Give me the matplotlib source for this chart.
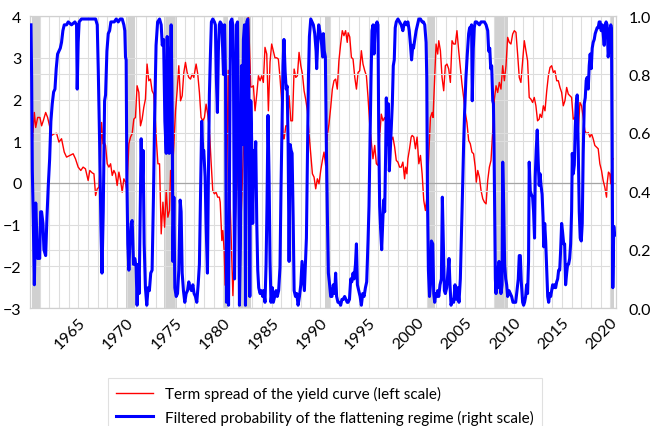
import numpy as np
import matplotlib.pyplot as plt

plt.rcParams['font.family'] = ['Lato', 'DejaVu Sans']

# term spread of the yield curve (left scale)
spread_t = [1960.11, 1960.46, 1960.60, 1960.80, 1961.04, 1961.21, 1961.38, 1961.63, 1961.83, 1962.07,
            1962.24, 1962.52, 1962.76, 1963.00, 1963.27, 1963.55, 1963.79, 1964.13, 1964.47, 1964.71,
            1964.99, 1965.26, 1965.50, 1965.74, 1966.02, 1966.19,
            1966.45, 1966.62, 1966.79, 1966.96, 1967.14, 1967.31, 1967.41, 1967.55, 1967.69, 1967.82,
            1967.99, 1968.17, 1968.34, 1968.51, 1968.68, 1968.85, 1969.02, 1969.20, 1969.37, 1969.54,
            1969.71, 1969.88, 1970.02, 1970.23, 1970.40, 1970.57, 1970.74, 1970.91, 1971.08, 1971.26,
            1971.43, 1971.60, 1971.77, 1971.94, 1972.11, 1972.29, 1972.46, 1972.63, 1972.80, 1972.97,
            1973.06, 1973.23, 1973.40, 1973.57, 1973.75, 1973.92, 1974.09, 1974.26, 1974.43, 1974.54,
            1974.71, 1974.85, 1975.05, 1975.22, 1975.39, 1975.57, 1975.74, 1975.91, 1976.08, 1976.25,
            1976.42, 1976.60, 1976.77, 1976.94, 1977.18, 1977.35, 1977.52, 1977.69, 1977.87, 1978.04,
            1978.21, 1978.38, 1978.55, 1978.72, 1978.90, 1979.07, 1979.24, 1979.41, 1979.58,
            1979.67, 1979.84, 1979.94, 1980.08, 1980.18, 1980.29, 1980.50, 1980.70, 1980.98, 1981.22,
            1981.45, 1981.73, 1982.07, 1982.32, 1982.59, 1982.83, 1982.93, 1983.10, 1983.27, 1983.45,
            1983.62, 1983.79, 1983.96, 1984.13, 1984.30, 1984.48, 1984.65, 1984.82, 1984.99, 1985.16,
            1985.33, 1985.51, 1985.68, 1985.85, 1986.02, 1986.19,
            1986.28, 1986.45, 1986.62, 1986.79, 1986.97, 1987.14, 1987.31, 1987.48, 1987.65, 1987.82,
            1988.00, 1988.17, 1988.34, 1988.51, 1988.68, 1988.85, 1989.03, 1989.20, 1989.37, 1989.54,
            1989.71, 1989.88, 1990.06, 1990.23, 1990.40, 1990.57, 1990.74, 1990.91, 1991.09, 1991.26,
            1991.43, 1991.60, 1991.77, 1991.94, 1992.12, 1992.29, 1992.46, 1992.63, 1992.80,
            1992.89, 1993.06, 1993.23, 1993.40, 1993.58, 1993.75, 1993.92, 1994.09, 1994.26, 1994.43,
            1994.61, 1994.78, 1994.95, 1995.12, 1995.29, 1995.46, 1995.64, 1995.81, 1995.98, 1996.15,
            1996.32, 1996.49, 1996.67, 1996.84, 1997.01, 1997.18, 1997.35, 1997.52, 1997.70, 1997.87,
            1998.04, 1998.21, 1998.38, 1998.55, 1998.73, 1998.83, 1998.97, 1999.07, 1999.24, 1999.41,
            1999.51, 1999.68, 1999.85, 2000.02, 2000.20, 2000.37, 2000.54, 2000.71, 2000.88, 2001.05,
            2001.23, 2001.40, 2001.57, 2001.67, 2001.84, 2001.98, 2002.15, 2002.26, 2002.43, 2002.60,
            2002.77, 2002.94, 2003.11, 2003.29, 2003.46, 2003.63, 2003.80, 2003.97, 2004.14, 2004.32,
            2004.49, 2004.66, 2004.83, 2005.00, 2005.17, 2005.35, 2005.52, 2005.69, 2005.86, 2006.03,
            2006.14,
            2006.29, 2006.46, 2006.63, 2006.81, 2006.98, 2007.15, 2007.32, 2007.49, 2007.66, 2007.84,
            2008.01, 2008.18, 2008.35, 2008.52, 2008.69, 2008.87, 2009.04, 2009.21, 2009.38, 2009.55,
            2009.72, 2009.90, 2010.07, 2010.24, 2010.41, 2010.58, 2010.75, 2010.93, 2011.10, 2011.27,
            2011.44, 2011.61, 2011.78, 2011.96, 2012.13, 2012.30, 2012.47, 2012.64,
            2012.73, 2012.90, 2013.07, 2013.24, 2013.42, 2013.59, 2013.76, 2013.93, 2014.10, 2014.27,
            2014.45, 2014.62, 2014.79, 2014.96, 2015.13, 2015.30, 2015.48, 2015.65, 2015.82, 2015.99,
            2016.16, 2016.33, 2016.51, 2016.68, 2016.85, 2017.02, 2017.19, 2017.36, 2017.54, 2017.71,
            2017.88, 2018.05, 2018.22, 2018.39, 2018.57, 2018.74, 2018.91, 2019.08, 2019.25, 2019.42,
            2019.60, 2019.66, 2019.80, 2019.94, 2020.04, 2020.18, 2020.28]
spread = [0.54, 1.69, 1.33, 1.57, 1.57, 1.37, 1.49, 1.69, 1.57, 1.33,
          1.14, 1.18, 1.19, 0.98, 1.06, 0.74, 0.62, 0.66, 0.70, 0.58,
          0.38, 0.30, 0.38, 0.34, 0.06, 0.30,
          0.24, 0.22, -0.30, -0.14, -0.10, 0.62, 1.45, 0.94, 0.98, 0.90,
          0.46, 0.38, 0.46, 0.18, 0.30, 0.22, -0.06, 0.26, 0.06, -0.22,
          0.10, 0.02, -0.18, 0.94, 1.10, 1.18, 1.53, 1.57, 2.33, 2.17,
          1.37, 1.53, 1.81, 2.01, 2.85, 2.45, 2.49, 2.21, 2.13, 1.49,
          1.06, 0.46, 0.46, -1.22, -0.46, -1.06, -0.18, -0.82, -0.66, 0.30,
          0.22, 0.78, 1.73, 2.21, 2.81, 1.97, 2.09, 2.65, 2.89, 2.65,
          2.53, 2.49, 2.61, 2.53, 2.85, 2.61, 2.17, 1.57, 1.49, 1.57,
          1.89, 1.65, 1.29, 0.54, -0.18, -0.26, -0.22, -0.34, -0.34,
          -0.46, -1.38, -1.14, -1.62, -2.45, -1.00, 2.70, -0.50, -2.70, -1.00,
          0.50, -1.50, 0.80, 3.00, 4.00, 2.30, 2.30, 2.33, 1.73, 2.13,
          2.57, 2.45, 2.57, 2.41, 3.25, 3.09, 1.73, 2.90, 3.33, 3.17,
          3.00, 3.00, 2.97, 2.53, 1.97, 1.06,
          1.06, 1.37, 1.37, 2.09, 1.49, 1.49, 2.73, 2.53, 2.57, 3.13,
          2.81, 2.61, 2.21, 2.00, 1.73, 1.18, 0.70, 0.22, 0.14, -0.14,
          0.10, -0.02, 0.30, 0.54, 0.74, 0.42, 1.14, 1.41, 1.81, 2.25,
          2.45, 2.49, 2.25, 2.93, 3.33, 3.65, 3.53, 3.65, 3.37,
          3.60, 3.50, 3.01, 2.97, 2.53, 2.25, 2.65, 2.69, 3.17, 2.85,
          2.69, 2.57, 2.05, 1.41, 0.98, 0.58, 0.90, 0.46, 0.42, 1.10,
          1.65, 1.49, 1.57, 1.45, 1.57, 1.41, 1.02, 1.10, 0.86, 0.54,
          0.50, 0.38, 0.38, 0.50, 0.10, 0.38, 0.22, 0.58, 0.82, 1.10,
          1.14, 1.10, 0.82, 1.10, 0.46, 0.66, 0.22, -0.42, -0.66, -0.30,
          0.70, 1.57, 1.69, 1.57, 2.53, 3.33, 3.09, 3.41, 3.17, 2.53,
          2.21, 2.81, 2.85, 2.73, 2.41, 3.41, 3.33, 3.33, 3.65, 3.17,
          2.77, 2.37, 2.05, 1.69, 1.45, 1.02, 0.94, 0.74, 0.70, 0.38,
          0.02,
          0.30, 0.14, -0.18, -0.38, -0.46, -0.50, 0.06, 0.38, 0.54, 1.26,
          2.01, 2.33, 2.17, 2.41, 2.25, 2.81, 2.45, 2.81, 3.49, 3.37,
          3.33, 3.57, 3.65, 3.61, 3.09, 2.53, 2.41, 2.93, 3.41, 3.17,
          2.93, 2.05, 2.01, 1.93, 2.05, 1.85, 1.49, 1.53,
          1.65, 1.57, 1.85, 1.73, 2.21, 2.57, 2.77, 2.81, 2.65, 2.69,
          2.45, 2.45, 2.29, 2.17, 1.85, 1.97, 2.29, 2.13, 2.09, 2.05,
          1.53, 1.57, 1.29, 1.25, 1.93, 1.85, 1.57, 1.25, 1.18, 1.21,
          1.10, 1.18, 1.06, 0.90, 0.86, 0.82, 0.46, 0.30, 0.06, -0.10,
          -0.34, -0.02, 0.26, 0.22, -0.02, 0.54, 0.58]

# filtered probability of the flattening regime (right scale)
prob_t = [1960.11, 1960.18, 1960.25, 1960.35, 1960.46, 1960.60, 1960.70, 1960.80, 1960.90, 1961.01,
          1961.11, 1961.21, 1961.35, 1961.45, 1961.63, 1961.76, 1961.90, 1962.04, 1962.17, 1962.31,
          1962.45, 1962.59, 1962.72, 1962.86, 1963.00, 1963.14, 1963.27, 1963.41, 1963.55, 1963.79,
          1963.96, 1964.30, 1964.65, 1964.82, 1964.89, 1964.99, 1965.09, 1965.33, 1965.85, 1966.36,
          1966.79, 1966.96, 1967.07, 1967.21, 1967.34, 1967.45, 1967.58, 1967.72, 1967.82, 1967.96,
          1968.10, 1968.24, 1968.37, 1968.72, 1968.92, 1969.13, 1969.33, 1969.54, 1969.71, 1969.81,
          1969.88, 1969.95, 1970.02, 1970.12, 1970.23, 1970.33, 1970.47, 1970.57, 1970.71, 1970.84,
          1970.98, 1971.08, 1971.19, 1971.29, 1971.43, 1971.50, 1971.60, 1971.70, 1971.81, 1971.94,
          1972.08, 1972.22, 1972.35, 1972.49, 1972.63, 1972.77, 1972.90, 1973.04,
          1973.20, 1973.40, 1973.57, 1973.68, 1973.82, 1973.95, 1974.09, 1974.19, 1974.30, 1974.40,
          1974.50, 1974.60, 1974.71, 1974.78, 1974.88, 1974.98, 1975.12, 1975.26, 1975.39, 1975.53,
          1975.63, 1975.74, 1975.87, 1976.01, 1976.15, 1976.29, 1976.42, 1976.56, 1976.70, 1976.84,
          1976.97, 1977.11, 1977.25, 1977.39, 1977.52, 1977.63, 1977.76, 1977.87, 1977.97, 1978.11,
          1978.21, 1978.35, 1978.45, 1978.55, 1978.66, 1978.76, 1978.90, 1979.07, 1979.17, 1979.27,
          1979.38, 1979.48, 1979.58,
          1979.67, 1979.84, 1980.01, 1980.12, 1980.22, 1980.32, 1980.42, 1980.53, 1980.63, 1980.73,
          1980.87, 1980.97, 1981.04, 1981.15, 1981.25, 1981.35, 1981.46, 1981.56, 1981.66, 1981.76,
          1981.87, 1981.97, 1982.07, 1982.18, 1982.28, 1982.42, 1982.52, 1982.62, 1982.73, 1982.83,
          1982.93, 1983.03, 1983.14, 1983.24, 1983.34, 1983.45, 1983.55, 1983.65, 1983.79, 1983.93,
          1984.06, 1984.17, 1984.30, 1984.41, 1984.51, 1984.61, 1984.72, 1984.82, 1984.92, 1985.06,
          1985.16, 1985.30, 1985.44, 1985.57, 1985.71, 1985.85, 1985.95, 1986.06, 1986.16, 1986.26,
          1986.38, 1986.49, 1986.59, 1986.69, 1986.79, 1986.90, 1987.00, 1987.10, 1987.21, 1987.31,
          1987.45, 1987.58, 1987.72, 1987.86, 1988.00, 1988.13, 1988.27, 1988.37, 1988.48, 1988.58,
          1988.68, 1988.79, 1988.89, 1989.03, 1989.16, 1989.30, 1989.44, 1989.58, 1989.64, 1989.75,
          1989.85, 1989.95, 1990.06, 1990.16, 1990.26, 1990.33, 1990.43, 1990.54, 1990.64, 1990.74,
          1990.85, 1990.95, 1991.09, 1991.22, 1991.36, 1991.50, 1991.60, 1991.70, 1991.84, 1991.98,
          1992.12, 1992.25, 1992.39, 1992.53, 1992.67, 1992.80,
          1992.89, 1993.03, 1993.16, 1993.27, 1993.40, 1993.51, 1993.65, 1993.75, 1993.85, 1993.99,
          1994.13, 1994.26, 1994.40, 1994.54, 1994.68, 1994.81, 1994.95, 1995.05, 1995.16, 1995.26,
          1995.36, 1995.47, 1995.57, 1995.67, 1995.77, 1995.88, 1995.98, 1996.05, 1996.15, 1996.25,
          1996.36, 1996.46, 1996.56, 1996.67, 1996.77, 1996.84, 1996.94, 1997.04, 1997.15, 1997.25,
          1997.35, 1997.46, 1997.56, 1997.66, 1997.76, 1997.87, 1998.04, 1998.21, 1998.38, 1998.55,
          1998.66, 1998.79, 1998.93, 1999.07, 1999.21, 1999.34, 1999.45, 1999.58,
          1999.65, 1999.78, 1999.92, 2000.06, 2000.20, 2000.37, 2000.54, 2000.68, 2000.81, 2000.95,
          2001.02, 2001.09, 2001.19, 2001.30, 2001.40, 2001.50, 2001.64, 2001.74, 2001.84, 2001.95,
          2002.05, 2002.15, 2002.26, 2002.39, 2002.53, 2002.63, 2002.74, 2002.84, 2002.94, 2003.08,
          2003.22, 2003.32, 2003.42, 2003.53, 2003.66, 2003.80, 2003.94, 2004.08, 2004.21, 2004.35,
          2004.49, 2004.62, 2004.73, 2004.83, 2004.93, 2005.07, 2005.21, 2005.35, 2005.45, 2005.55,
          2005.65, 2005.72, 2005.83, 2005.93, 2006.03, 2006.17,
          2006.46, 2006.63, 2006.81, 2006.98, 2007.15, 2007.32, 2007.42, 2007.53, 2007.63, 2007.73,
          2007.84, 2007.91, 2007.97, 2008.04, 2008.11, 2008.18, 2008.28, 2008.39, 2008.49, 2008.59,
          2008.69, 2008.80, 2008.87, 2008.97, 2009.07, 2009.18, 2009.28, 2009.38, 2009.52, 2009.66,
          2009.79, 2009.93, 2010.07, 2010.21, 2010.34, 2010.48, 2010.58, 2010.69, 2010.79, 2010.93,
          2011.03, 2011.13, 2011.24, 2011.34, 2011.44, 2011.54, 2011.61, 2011.72, 2011.82, 2011.96,
          2012.06, 2012.16, 2012.23, 2012.33, 2012.44, 2012.54, 2012.64,
          2012.73, 2012.83, 2012.94, 2013.04, 2013.11, 2013.21, 2013.31, 2013.42, 2013.52, 2013.62,
          2013.73, 2013.83, 2013.93, 2014.03, 2014.14, 2014.24, 2014.34, 2014.45, 2014.55, 2014.65,
          2014.76, 2014.86, 2014.96, 2015.06, 2015.17, 2015.27, 2015.37, 2015.48, 2015.58, 2015.68,
          2015.79, 2015.89, 2015.99, 2016.06, 2016.16, 2016.27, 2016.37, 2016.47, 2016.57, 2016.68,
          2016.78, 2016.88, 2016.99, 2017.09, 2017.19, 2017.30, 2017.40, 2017.50, 2017.60, 2017.71,
          2017.81, 2017.91, 2018.02, 2018.12, 2018.22, 2018.33, 2018.43, 2018.53, 2018.63, 2018.74,
          2018.84, 2018.94, 2019.05, 2019.15, 2019.25, 2019.36, 2019.46, 2019.56, 2019.66, 2019.77,
          2019.87, 2019.94, 2020.04, 2020.11, 2020.18, 2020.25, 2020.35, 2020.42]
prob = [0.97, 0.79, 0.47, 0.30, 0.08, 0.36, 0.27, 0.17, 0.19, 0.17,
        0.33, 0.33, 0.29, 0.20, 0.18, 0.31, 0.42, 0.51, 0.64, 0.70,
        0.74, 0.75, 0.82, 0.87, 0.88, 0.89, 0.91, 0.95, 0.97, 0.97,
        0.98, 0.97, 0.98, 0.97, 0.75, 0.91, 0.98, 0.99, 0.99, 0.99,
        0.99, 0.97, 0.81, 0.56, 0.28, 0.12, 0.33, 0.71, 0.73, 0.88,
        0.94, 0.95, 0.98, 0.98, 0.99, 0.98, 0.99, 0.99, 0.97, 0.95,
        0.86, 0.85, 0.45, 0.22, 0.13, 0.22, 0.29, 0.30, 0.15, 0.17,
        0.14, 0.01, 0.15, 0.05, 0.40, 0.58, 0.40, 0.54, 0.22, 0.07,
        0.01, 0.07, 0.06, 0.12, 0.13, 0.38, 0.67, 0.90,
        0.98, 0.99, 0.97, 0.90, 0.92, 0.64, 0.53, 0.93, 0.82, 0.53,
        0.79, 0.97, 0.67, 0.16, 0.38, 0.07, 0.04, 0.05, 0.13, 0.37,
        0.33, 0.12, 0.06, 0.02, 0.05, 0.06, 0.09, 0.07, 0.06, 0.08,
        0.05, 0.04, 0.02, 0.08, 0.15, 0.37, 0.64, 0.53, 0.54, 0.45,
        0.29, 0.12, 0.45, 0.73, 0.87, 0.98, 0.99, 0.98, 0.97, 0.79,
        0.67, 0.88, 0.97,
        0.98, 0.97, 0.80, 0.97, 0.79, 0.02, 0.31, 0.01, 0.45, 0.98,
        0.99, 0.97, 0.83, 0.10, 0.40, 0.97, 0.98, 0.58, 0.01, 0.22,
        0.83, 0.56, 0.92, 0.97, 0.01, 0.98, 0.99, 0.81, 0.04, 0.71,
        0.56, 0.29, 0.54, 0.48, 0.57, 0.29, 0.13, 0.07, 0.05, 0.06,
        0.04, 0.06, 0.02, 0.15, 0.36, 0.66, 0.45, 0.16, 0.02, 0.07,
        0.02, 0.04, 0.06, 0.04, 0.06, 0.14, 0.40, 0.62, 0.83, 0.92,
        0.81, 0.75, 0.76, 0.56, 0.16, 0.56, 0.54, 0.53, 0.31, 0.06,
        0.04, 0.05, 0.01, 0.04, 0.08, 0.16, 0.10, 0.06, 0.15, 0.24,
        0.51, 0.79, 0.93, 0.99, 0.98, 0.97, 0.94, 0.88, 0.82, 0.91,
        0.97, 0.95, 0.93, 0.90, 0.86, 0.94, 0.88, 0.86, 0.56, 0.33,
        0.12, 0.09, 0.04, 0.04, 0.08, 0.05, 0.12, 0.04, 0.02, 0.02,
        0.01, 0.03, 0.03, 0.04, 0.03, 0.02,
        0.02, 0.03, 0.10, 0.09, 0.12, 0.10, 0.15, 0.22, 0.08, 0.06,
        0.04, 0.01, 0.05, 0.04, 0.07, 0.09, 0.23, 0.35, 0.58, 0.79,
        0.95, 0.97, 0.87, 0.95, 0.97, 0.98, 0.97, 0.62, 0.35, 0.27,
        0.20, 0.29, 0.37, 0.33, 0.53, 0.72, 0.56, 0.70, 0.47, 0.54,
        0.62, 0.70, 0.83, 0.85, 0.96, 0.98, 0.99, 0.98, 0.97, 0.95,
        0.97, 0.98, 0.97, 0.98, 0.95, 0.90, 0.85, 0.90,
        0.89, 0.92, 0.95, 0.97, 0.99, 0.99, 0.98, 0.98, 0.97, 0.91,
        0.79, 0.39, 0.13, 0.04, 0.08, 0.23, 0.22, 0.05, 0.02, 0.05,
        0.04, 0.06, 0.04, 0.08, 0.10, 0.38, 0.22, 0.06, 0.05, 0.07,
        0.13, 0.17, 0.08, 0.01, 0.03, 0.02, 0.08, 0.03, 0.07, 0.02,
        0.10, 0.27, 0.42, 0.56, 0.67, 0.79, 0.87, 0.94, 0.96, 0.96,
        0.97, 0.71, 0.89, 0.96, 0.98, 0.98,
        0.97, 0.98, 0.98, 0.98, 0.97, 0.95, 0.88, 0.89, 0.82, 0.83,
        0.71, 0.70, 0.56, 0.33, 0.10, 0.05, 0.14, 0.07, 0.16, 0.08,
        0.05, 0.08, 0.50, 0.35, 0.15, 0.10, 0.08, 0.04, 0.06, 0.05,
        0.04, 0.02, 0.02, 0.02, 0.06, 0.10, 0.18, 0.18, 0.09, 0.02,
        0.01, 0.02, 0.04, 0.08, 0.05, 0.16, 0.50, 0.40, 0.39, 0.38,
        0.33, 0.24, 0.45, 0.54, 0.61, 0.50, 0.42,
        0.46, 0.42, 0.39, 0.31, 0.21, 0.29, 0.23, 0.13, 0.04, 0.02,
        0.05, 0.04, 0.06, 0.08, 0.07, 0.08, 0.07, 0.09, 0.10, 0.13,
        0.13, 0.20, 0.29, 0.26, 0.22, 0.22, 0.08, 0.12, 0.15, 0.15,
        0.17, 0.22, 0.33, 0.53, 0.46, 0.49, 0.62, 0.70, 0.73, 0.54,
        0.33, 0.24, 0.23, 0.29, 0.53, 0.70, 0.72, 0.78, 0.79, 0.75,
        0.83, 0.87, 0.82, 0.89, 0.91, 0.92, 0.94, 0.95, 0.96, 0.96,
        0.98, 0.98, 0.95, 0.97, 0.94, 0.90, 0.97, 0.98, 0.97, 0.86,
        0.89, 0.95, 0.97, 0.96, 0.56, 0.07, 0.28, 0.25]

# NBER recessions (start, end)
rec_start = [1960.25, 1969.92, 1973.83, 1980.00, 1981.50, 1990.50, 2001.17, 2007.92, 2020.08]
rec_end = [1961.08, 1970.83, 1975.17, 1980.50, 1982.83, 1991.17, 2001.83, 2009.42, 2020.33]

year_ticks = [1965, 1970, 1975, 1980, 1985, 1990, 1995, 2000, 2005, 2010, 2015, 2020]

fig = plt.figure(figsize=(6.5, 4.27), dpi=100)
ax = fig.add_axes([0.046, 0.276, 0.902, 0.684])
ax2 = ax.twinx()

for s, e in zip(rec_start, rec_end):
    ax.axvspan(s, e, color='#d0d0d0', lw=0, zorder=0)

ax.plot(spread_t, spread, color='#ff0000', lw=1.0, zorder=3)
ax.axhline(0, color='#a6a6a6', lw=0.9, zorder=2)
ax2.plot(prob_t, prob, color='#0000ff', lw=2.2, zorder=3)

ax.set_xlim(1960.0, 2020.6)
ax.set_ylim(-3, 4)
ax2.set_ylim(0, 1)
ax.set_yticks(np.arange(-3, 5, 1))
ax2.set_yticks(np.arange(0, 1.01, 0.2))
ax2.set_yticklabels(['%.1f' % v for v in np.arange(0, 1.01, 0.2)])
ax.set_xticks(year_ticks)
ax.set_xticks(np.arange(1960, 2021), minor=True)
ax.set_xticklabels([str(y) for y in year_ticks], rotation=45, ha='right',
                   rotation_mode='anchor')

ax.grid(True, which='both', axis='x', color='#dddddd', lw=0.8)
ax.grid(True, axis='y', color='#dddddd', lw=0.8)
ax2.grid(True, axis='y', color='#dddddd', lw=0.8)
ax.set_axisbelow(True)
ax2.set_axisbelow(True)

ax.tick_params(which='both', length=0, labelsize=11.5, colors='black')
ax.tick_params(axis='y', pad=6)
ax.tick_params(axis='x', pad=5)
ax2.tick_params(length=0, labelsize=11.5, pad=9, colors='black')
for a in (ax, ax2):
    for sp in a.spines.values():
        sp.set_color('#d0d0d0')
        sp.set_linewidth(0.8)

h1, = ax.plot([], [], color='#ff0000', lw=1.0)
h2, = ax.plot([], [], color='#0000ff', lw=2.2)
leg = fig.legend([h1, h2], ['Term spread of the yield curve (left scale)',
                            'Filtered probability of the flattening regime (right scale)'],
                 loc='upper center', bbox_to_anchor=(0.5, 0.131), fontsize=11,
                 frameon=True, fancybox=False, edgecolor='#d9d9d9',
                 handlelength=2.4, labelspacing=0.55, borderpad=0.55)
leg.get_frame().set_linewidth(0.8)

fig.savefig('out.png', dpi=100)
